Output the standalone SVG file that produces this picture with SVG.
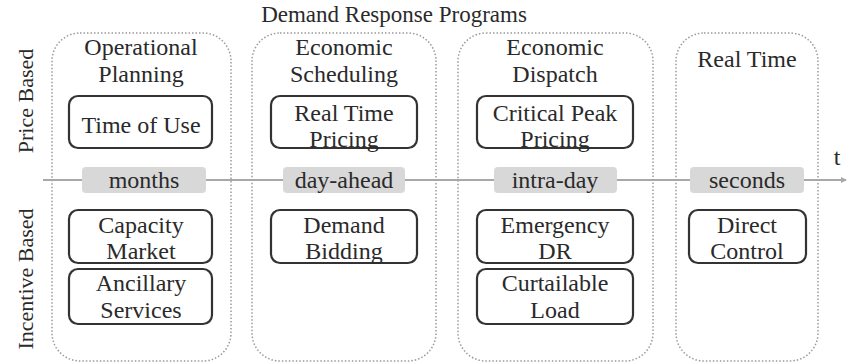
<svg xmlns="http://www.w3.org/2000/svg" width="849" height="364" viewBox="0 0 849 364">
<defs>
<style>
text{font-family:"Liberation Serif","DejaVu Serif",serif;fill:#2a2a2a;text-anchor:middle}
.t{font-size:24px}
.h{font-size:23px}
.s{font-size:22px}
.c{fill:none;stroke:#9a9a9a;stroke-width:1.5;stroke-dasharray:1.5 2}
.b{fill:#fff;stroke:#333;stroke-width:2.2}
.l{fill:#d8d8d8;stroke:none}
.ax{stroke:#a8a8a8;stroke-width:2;fill:none}
</style>
<marker id="ah" markerWidth="6" markerHeight="6" refX="5" refY="3" orient="auto" markerUnits="userSpaceOnUse">
<path d="M0,0 L6,3 L0,6 z" fill="#a8a8a8"/>
</marker>
</defs>
<rect width="849" height="364" fill="#fff"/>
<text class="h" x="394" y="22">Demand Response Programs</text>
<text class="s" transform="translate(33,101) rotate(-90)">Price Based</text>
<text class="s" transform="translate(33,279) rotate(-90)">Incentive Based</text>

<g id="col1">
<rect class="c" x="52" y="33" width="179" height="328" rx="28"/>
<text class="t" x="141" y="55">Operational</text>
<text class="t" x="141" y="82">Planning</text>
</g>
<g id="col2">
<rect class="c" x="252" y="33" width="184" height="328" rx="28"/>
<text class="t" x="344" y="55">Economic</text>
<text class="t" x="344" y="82">Scheduling</text>
</g>
<g id="col3">
<rect class="c" x="458" y="33" width="195" height="328" rx="28"/>
<text class="t" x="555" y="55">Economic</text>
<text class="t" x="555" y="82">Dispatch</text>
</g>
<g id="col4">
<rect class="c" x="676" y="33" width="142" height="328" rx="28"/>
<text class="t" x="747" y="67">Real Time</text>
</g>

<g id="connectors">
<line class="ax" x1="43" y1="180" x2="846" y2="180" marker-end="url(#ah)"/>
</g>
<text class="t" x="837" y="165">t</text>

<g id="months"><rect class="l" x="82" y="167" width="124" height="26" rx="4"/><text class="t" x="144" y="188">months</text></g>
<g id="dayahead"><rect class="l" x="283" y="167" width="122" height="26" rx="4"/><text class="t" x="344" y="188">day-ahead</text></g>
<g id="intraday"><rect class="l" x="494" y="167" width="123" height="26" rx="4"/><text class="t" x="555" y="188">intra-day</text></g>
<g id="seconds"><rect class="l" x="690" y="167" width="114" height="26" rx="4"/><text class="t" x="747" y="188">seconds</text></g>

<g id="tou"><rect class="b" x="69" y="96" width="143" height="52" rx="9"/><text class="t" x="141" y="133">Time of Use</text></g>
<g id="rtp"><rect class="b" x="271" y="96" width="146" height="52" rx="9"/><text class="t" x="344" y="121">Real Time</text><text class="t" x="344" y="147">Pricing</text></g>
<g id="cpp"><rect class="b" x="477" y="96" width="156" height="52" rx="9"/><text class="t" x="555" y="121">Critical Peak</text><text class="t" x="555" y="147">Pricing</text></g>

<g id="cm"><rect class="b" x="69" y="210" width="143" height="53" rx="9"/><text class="t" x="141" y="233">Capacity</text><text class="t" x="141" y="259">Market</text></g>
<g id="as"><rect class="b" x="69" y="269" width="143" height="55" rx="9"/><text class="t" x="141" y="291">Ancillary</text><text class="t" x="141" y="318">Services</text></g>
<g id="db"><rect class="b" x="271" y="210" width="146" height="53" rx="9"/><text class="t" x="344" y="233">Demand</text><text class="t" x="344" y="259">Bidding</text></g>
<g id="edr"><rect class="b" x="477" y="210" width="156" height="53" rx="9"/><text class="t" x="555" y="233">Emergency</text><text class="t" x="555" y="259">DR</text></g>
<g id="cl"><rect class="b" x="477" y="269" width="156" height="55" rx="9"/><text class="t" x="555" y="291">Curtailable</text><text class="t" x="555" y="318">Load</text></g>
<g id="dc"><rect class="b" x="689" y="210" width="117" height="53" rx="9"/><text class="t" x="747" y="233">Direct</text><text class="t" x="747" y="259">Control</text></g>
</svg>
